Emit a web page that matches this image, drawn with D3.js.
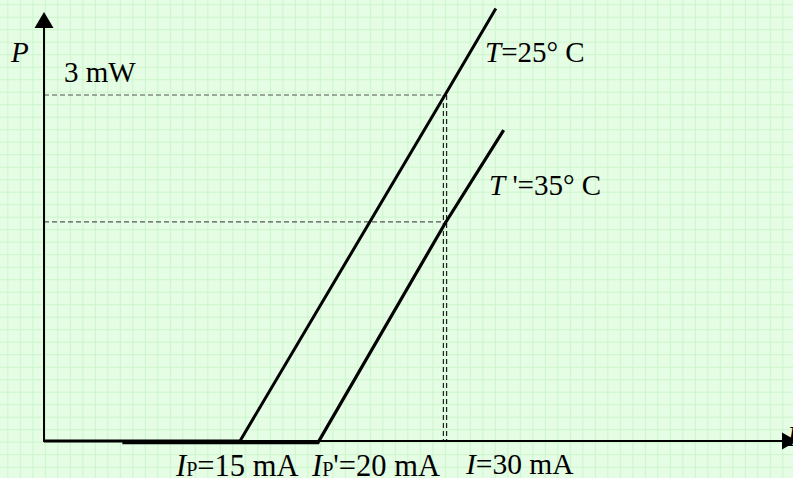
<!DOCTYPE html>
<html><head><meta charset="utf-8">
<script src="https://cdn.jsdelivr.net/npm/d3@7"></script>
<style>body{margin:0;background:#e6fce6;}svg{display:block;}</style>
</head><body>
<script>
// schematic data: current I (mA), optical power P (mW)
const xStops = [0, 15, 20, 30, 57];          // mA break points of the schematic axis
const curveT25 = [[0,0],[15,0],[30,3],[33.9,3.75]];
const curveT35 = [[6,0],[20,0],[30,1.9],[34.5,2.71]];
const refI = 30, refP25 = 3, refP35 = 1.9;
const yMaxP = 3.72;

const W = 793, H = 478;
const svg = d3.select("body").append("svg").attr("width", W).attr("height", H);

const x = d3.scaleLinear().domain(xStops).range([44, 240, 318, 445, 797]);
const y = d3.scaleLinear().domain([0, 3]).range([441, 95]);

// background grid
const defs = svg.append("defs");
const pat = defs.append("pattern").attr("id","g").attr("patternUnits","userSpaceOnUse")
  .attr("width",12.5).attr("height",12.5).attr("x",7.3).attr("y",4.2);
pat.append("rect").attr("width",12.5).attr("height",12.5).attr("fill","#e5fce5");
pat.append("path").attr("d","M0,0.5H12.5M0.5,0V12.5").attr("stroke","#cbf6cb").attr("stroke-width",1);
svg.append("rect").attr("width",W).attr("height",H).attr("fill","url(#g)");

const serif = "'Liberation Serif','Times New Roman',serif";
const line = d3.line().x(d=>x(d[0])).y(d=>y(d[1]));

// dashed reference lines
const dash = svg.append("g").attr("stroke","#555").attr("stroke-width",1.2).attr("stroke-dasharray","5,3").attr("fill","none");
dash.append("path").attr("d", line([[0,refP25],[refI,refP25]]));
dash.append("path").attr("d", line([[0,refP35],[refI,refP35]]));
dash.append("path").attr("stroke","#222").attr("d", line([[refI,refP25],[refI,0]])).attr("transform","translate(-1.6,0)");
dash.append("path").attr("stroke","#222").attr("d", line([[refI,refP25],[refI,0]])).attr("transform","translate(1.6,0)");

// x-axis label (partly hidden at the edge)
svg.append("text").attr("x",787).attr("y",446).attr("font-family",serif).attr("font-style","italic")
  .attr("font-size",29).text("I");

// axes
svg.append("line").attr("x1",x(0)).attr("x2",x(xStops[4])-12).attr("y1",y(0)).attr("y2",y(0))
  .attr("stroke","#000").attr("stroke-width",1.8);
svg.append("line").attr("x1",x(0)).attr("x2",x(0)).attr("y1",y(0)+1).attr("y2",y(yMaxP)+14)
  .attr("stroke","#000").attr("stroke-width",2);
svg.append("path").attr("d",`M${x(0)},${y(yMaxP)} L${x(0)-9.5},${y(yMaxP)+16} L${x(0)+9.5},${y(yMaxP)+16} Z`).attr("fill","#000");
const xt = x(xStops[4]);
svg.append("path").attr("d",`M${xt},${y(0)} L${xt-15},${y(0)-8.5} L${xt-15},${y(0)+8.5} Z`).attr("fill","#000");

// curves
svg.append("path").attr("d", line(curveT25)).attr("fill","none").attr("stroke","#000")
  .attr("stroke-width",3).attr("stroke-linejoin","miter");
svg.append("path").attr("d", line(curveT35)).attr("fill","none").attr("stroke","#000")
  .attr("stroke-width",3.2).attr("transform","translate(0,1.6)");

// labels
function txt(xp, yp, parts, size){
  const t = svg.append("text").attr("x",xp).attr("y",yp).attr("font-family",serif).attr("font-size",size).attr("fill","#000");
  parts.forEach(p=>{
    const s = t.append("tspan").text(p.t);
    if(p.i) s.attr("font-style","italic");
    if(p.sub) s.attr("font-size",size*0.66);
  });
  return t;
}
txt(11, 62, [{t:"P", i:true}], 29);
txt(64, 82, [{t:"3 mW"}], 29);
txt(485, 62, [{t:"T", i:true},{t:"=25° C"}], 29);
txt(489, 195, [{t:"T", i:true},{t:" '=35° C"}], 29);
txt(176, 476, [{t:"I", i:true},{t:"P", sub:true},{t:"=15 mA"}], 30.5);
txt(312, 476, [{t:"I", i:true},{t:"P", sub:true},{t:"'=20 mA"}], 30.5);
txt(466, 474, [{t:"I", i:true},{t:"=30 mA"}], 29.5);
</script>
</body></html>
